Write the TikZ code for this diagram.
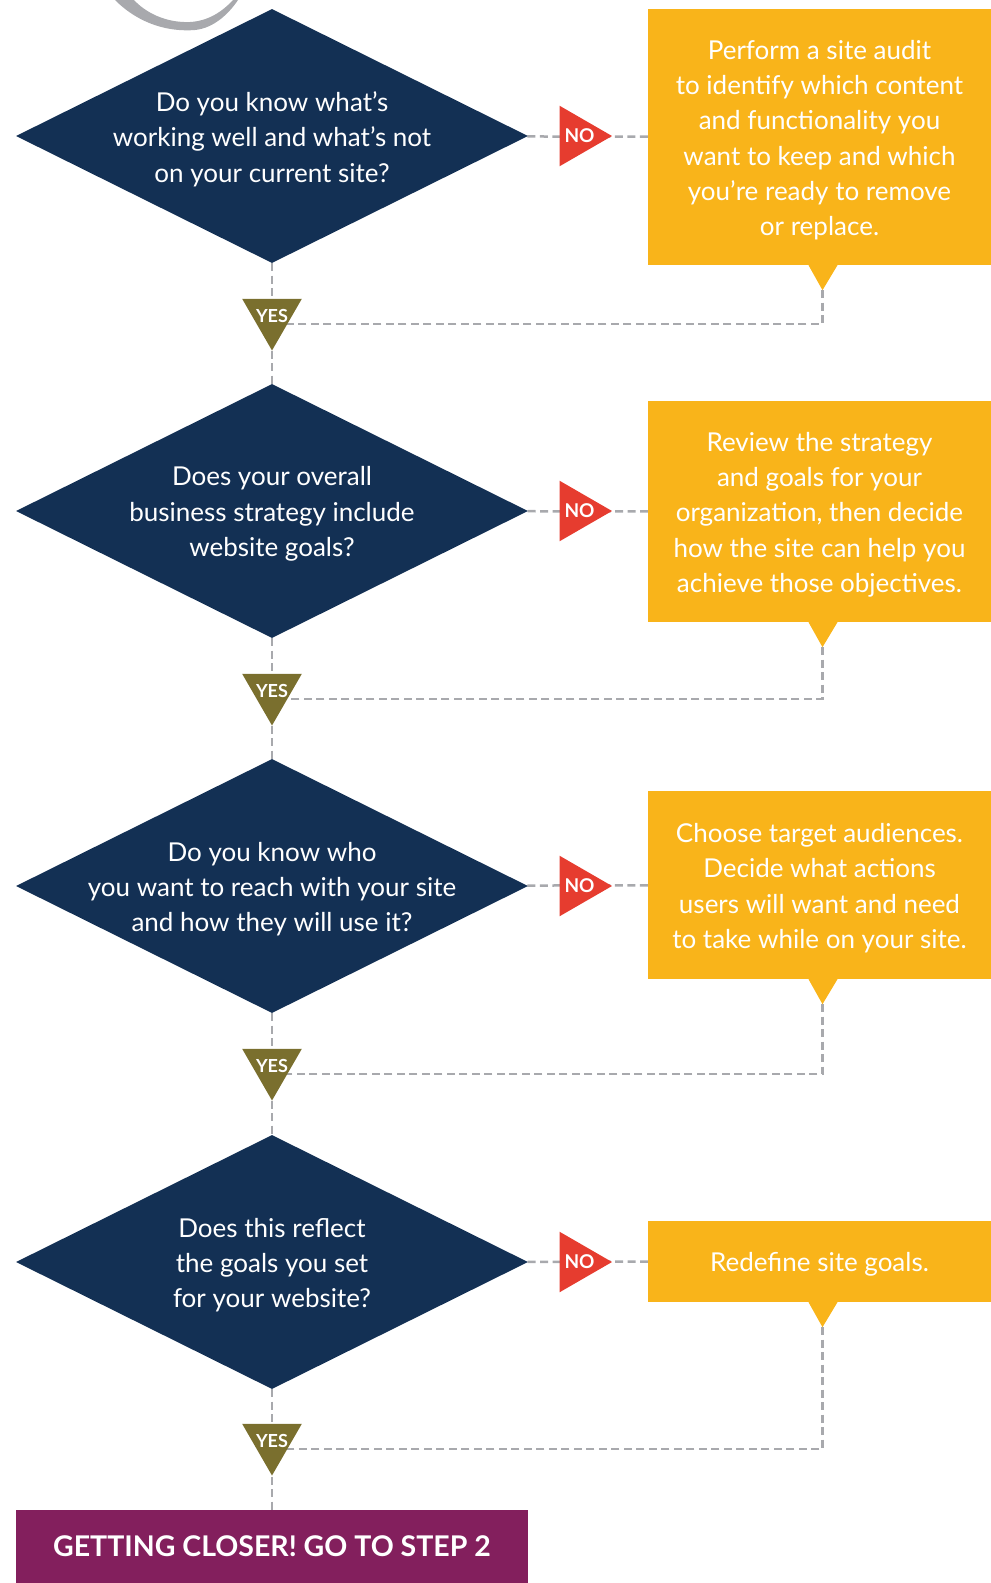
\documentclass[tikz,border=0pt]{standalone}
\usepackage{fontspec}
\setmainfont{Lato}
\usepackage{tikz}
\usepackage{xcolor}
\usetikzlibrary{shapes, positioning, backgrounds}

\definecolor{navy}{HTML}{133054}
\definecolor{amber}{HTML}{F9B41A}
\definecolor{nored}{HTML}{E63C2F}
\definecolor{yesolive}{HTML}{7A6F2E}
\definecolor{plum}{HTML}{831F5D}
\definecolor{dashgray}{HTML}{A8A9AD}

\tikzset{
  question/.style={diamond, fill=navy, minimum width=512pt, minimum height=254pt, inner sep=0pt},
  answer/.style={fill=amber, minimum width=343pt, inner sep=0pt},
  boxtext/.style={text=white, align=center, inner sep=0pt, yshift=-3pt, font=\fontsize{26}{35.3}\selectfont},
  nobadge/.style={regular polygon, regular polygon sides=3, shape border rotate=-90, fill=nored, minimum size=70pt, inner sep=-7pt, text=white, execute at begin node={\hspace{5pt}}, font=\bfseries\fontsize{19}{19}\selectfont},
  yesbadge/.style={regular polygon, regular polygon sides=3, shape border rotate=180, fill=yesolive, minimum size=69pt, inner sep=-7pt, text=white, font=\bfseries\fontsize{18}{18}\selectfont},
  link/.style={draw=dashgray, line width=2.5pt, dash pattern=on 8pt off 4.5pt},
}

\begin{document}
\begin{tikzpicture}[x=1pt, y=-1pt]
        \useasboundingbox (0,0) rectangle (991,1583);

        % swoosh at the top
        \fill[dashgray] (115,0) .. controls (140,25) and (170,32) .. (195,30)
            .. controls (215,28) and (230,12) .. (238,0) -- (233,0)
            .. controls (222,12) and (208,21) .. (190,22)
            .. controls (165,23) and (145,12) .. (134,0) -- cycle;

        \node[question] (q1) at (272,136) {};
        \node[question] (q2) at (272,511) {};
        \node[question] (q3) at (272,886) {};
        \node[question] (q4) at (272,1262) {};

        \node[boxtext] (q1text) at (q1) {Do you know what’s\\working well and what’s not\\on your current site?};
        \node[boxtext] (q2text) at (q2) {Does your overall\\business strategy include\\website goals?};
        \node[boxtext] (q3text) at (q3) {Do you know who\\you want to reach with your site\\and how they will use it?};
        \node[boxtext] (q4text) at (q4) {Does this reflect\\the goals you set\\for your website?};

        \node[answer, minimum height=256pt] (a1) at (819.5,137) {};
        \node[answer, minimum height=221pt] (a2) at (819.5,511.5) {};
        \node[answer, minimum height=188pt] (a3) at (819.5,885) {};
        \node[answer, minimum height=81pt] (a4) at (819.5,1261.5) {};

        \node[boxtext] (a1text) at (a1) {Perform a site audit\\to identify which content\\and functionality you\\want to keep and which\\you’re ready to remove\\or replace.};
        \node[boxtext] (a2text) at (a2) {Review the strategy\\and goals for your\\organization, then decide\\how the site can help you\\achieve those objectives.};
        \node[boxtext] (a3text) at (a3) {Choose target audiences.\\Decide what actions\\users will want and need\\to take while on your site.};
        \node[boxtext] (a4text) at (a4) {Redefine site goals.};

        \coordinate (p1) at ([xshift=3pt, yshift=-25pt]a1.south);
        \coordinate (p2) at ([xshift=3pt, yshift=-25pt]a2.south);
        \coordinate (p3) at ([xshift=3pt, yshift=-25pt]a3.south);
        \coordinate (p4) at ([xshift=3pt, yshift=-25pt]a4.south);
        \fill[amber] ([xshift=-11pt]a1.south) -- ([xshift=18pt]a1.south) -- (p1) -- cycle;
        \fill[amber] ([xshift=-11pt]a2.south) -- ([xshift=18pt]a2.south) -- (p2) -- cycle;
        \fill[amber] ([xshift=-11pt]a3.south) -- ([xshift=18pt]a3.south) -- (p3) -- cycle;
        \fill[amber] ([xshift=-11pt]a4.south) -- ([xshift=18pt]a4.south) -- (p4) -- cycle;

        \node[nobadge] (n1) at (577,136) {NO};
        \node[nobadge] (n2) at (577,511) {NO};
        \node[nobadge] (n3) at (577,886) {NO};
        \node[nobadge] (n4) at (577,1262) {NO};

        \node[yesbadge] (y1) at (272,316) {YES};
        \node[yesbadge] (y2) at (272,691) {YES};
        \node[yesbadge] (y3) at (272,1066) {YES};
        \node[yesbadge] (y4) at (272,1441) {YES};

        \node[fill=plum, minimum width=512pt, minimum height=73pt, inner sep=0pt, text=white,
            font=\bfseries\fontsize{28.5}{28.5}\selectfont] (goal) at (272,1546.5) {GETTING CLOSER! GO TO STEP 2};

        \begin{scope}[on background layer]
            \draw[link] (q1) to (a1)
                (q2) to (a2)
                (q3) to (a3)
                (q4) to (a4);
            \draw[link] (q1.south) to (q2.north)
                (q2.south) to (q3.north)
                (q3.south) to (q4.north)
                (q4.south) to (goal.north);
            \draw[link] (p1) |- ([yshift=-8pt]y1.center);
            \draw[link] (p2) |- ([yshift=-8pt]y2.center);
            \draw[link] (p3) |- ([yshift=-8pt]y3.center);
            \draw[link] (p4) |- ([yshift=-8pt]y4.center);
        \end{scope}
    \end{tikzpicture}
\end{document}
